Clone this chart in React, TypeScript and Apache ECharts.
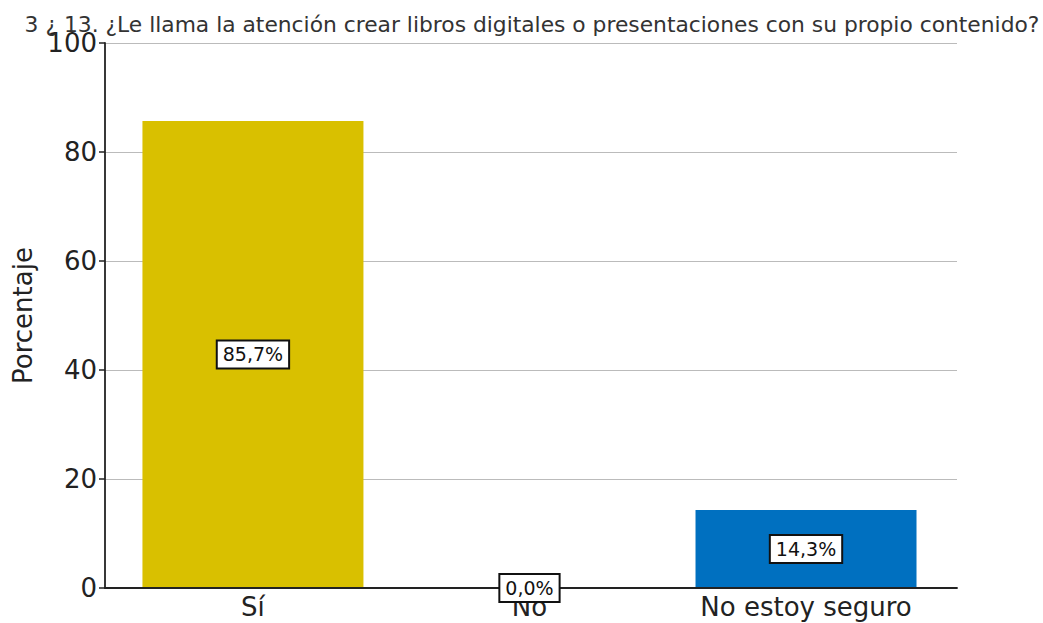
import React, { useEffect, useRef } from "react";
import * as echarts from "echarts";

const titleText = "3 ¿ 13. ¿Le llama la atención crear libros digitales o presentaciones con su propio contenido?";
const categories = ["Sí", "No", "No estoy seguro"];
const values = [85.7, 0.0, 14.3];
const colors = ["#D9C000", "#D9C000", "#0070C0"];
const yTicks = [0, 20, 40, 60, 80, 100];

export default function App() {
  const ref = useRef<HTMLDivElement>(null);
  useEffect(() => {
    if (!ref.current) return;
    const chart = echarts.init(ref.current, undefined, { renderer: "svg" });
    const font = "DejaVu Sans";
    const points = values.map((v, i) => [i, v]);
    chart.setOption({
      animation: false,
      textStyle: { fontFamily: font },
      title: {
        text: titleText,
        left: 527,
        textAlign: "center",
        top: 8,
        textStyle: { fontFamily: font, fontSize: 21.8, fontWeight: "normal", color: "#333333" },
      },
      grid: { left: 105, right: 1043 - 957, top: 43, bottom: 623 - 588, containLabel: false },
      xAxis: {
        type: "value",
        min: -0.535,
        max: 2.546,
        splitLine: { show: false },
        axisLine: { show: true, onZero: false, lineStyle: { color: "#222222", width: 1.8 } },
        axisTick: { show: false },
        axisLabel: {
          customValues: [0, 1, 2],
          formatter: (v: number) => categories[Math.round(v)] ?? "",
          fontFamily: font,
          fontSize: 26,
          color: "#222222",
          margin: 6,
        },
        z: 3,
      },
      yAxis: {
        type: "value",
        min: 0,
        max: 100,
        interval: 20,
        name: "Porcentaje",
        nameLocation: "middle",
        nameGap: 60,
        nameTextStyle: { fontFamily: font, fontSize: 26, color: "#222222" },
        axisLine: { show: true, onZero: false, lineStyle: { color: "#222222", width: 1.8 } },
        axisTick: { show: true, length: 6, lineStyle: { color: "#222222", width: 1.5 }, customValues: yTicks },
        axisLabel: { fontFamily: font, fontSize: 26, color: "#222222", margin: 8, customValues: yTicks },
        splitLine: { show: true, lineStyle: { color: "#bbbbbb", width: 1 } },
      },
      series: [
        {
          type: "bar",
          barWidth: 221,
          data: points.map((p, i) => ({ value: p, itemStyle: { color: colors[i] } })),
          z: 2,
        },
        {
          type: "bar",
          barWidth: 221,
          barGap: "-100%",
          silent: true,
          data: points,
          itemStyle: { color: "rgba(0,0,0,0)" },
          label: {
            show: true,
            position: "inside",
            formatter: (p: any) => p.value[1].toFixed(1).replace(".", ",") + "%",
            fontFamily: font,
            fontSize: 19,
            color: "#111111",
            backgroundColor: "#ffffff",
            borderColor: "#111111",
            borderWidth: 2,
            padding: [4, 5, 3, 5],
          },
          z: 10,
        },
      ],
    });
    return () => chart.dispose();
  }, []);
  return <div ref={ref} style={{ width: 1043, height: 623, position: "absolute", left: 0, top: 0 }} />;
}
